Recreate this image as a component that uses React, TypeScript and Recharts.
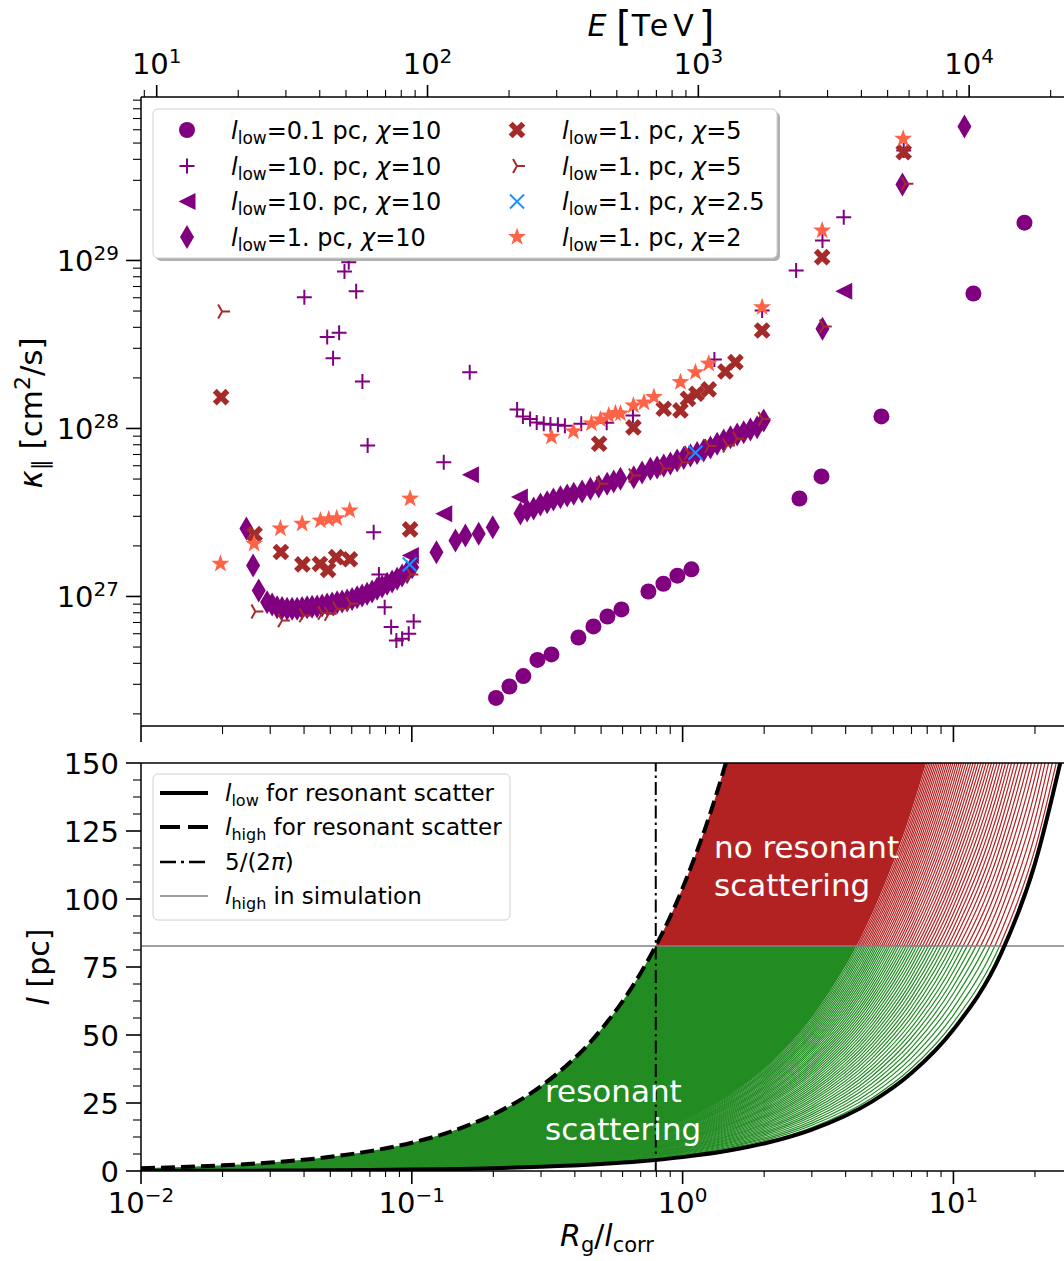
import React from 'react';
import { ScatterChart, Scatter, XAxis, YAxis, ComposedChart, Line, Area, ReferenceLine } from 'recharts';

const FONT = '"DejaVu Sans", "Liberation Sans", sans-serif';
const PURPLE = '#800080';
const BROWN = '#a52a2a';
const BLUE = '#1e90ff';
const TOMATO = '#ff6347';
const GREEN = '#228b22';
const RED = '#b22222';

// ---------------- top panel data: R_g/l_corr and kappa_par [cm^2/s] ----------------
const low01chi10_R = [0.2046, 0.2293, 0.2582, 0.291, 0.3278, 0.4123, 0.4684, 0.5276, 0.5943, 0.7475, 0.8492, 0.9567, 1.078, 2.7, 3.256, 5.42, 11.85, 18.29];
const low01chi10_K = [2.49e26, 2.91e26, 3.36e26, 4.19e26, 4.52e26, 5.7e26, 6.63e26, 7.6e26, 8.37e26, 1.07e27, 1.19e27, 1.33e27, 1.45e27, 3.83e27, 5.18e27, 1.18e28, 6.36e28, 1.68e29];

const low10chi10plus_R = [0.0401, 0.0487, 0.0512, 0.0539, 0.0564, 0.0585, 0.0623, 0.0657, 0.0687, 0.0723, 0.0756, 0.0794, 0.0839, 0.0877, 0.0921, 0.0974, 0.1016, 0.1312, 0.1636, 0.2448, 0.2572, 0.2734, 0.2892, 0.307, 0.325, 0.3463, 0.3675, 0.4223, 0.5244, 0.6554, 1.31, 1.966, 2.625, 3.284, 3.935, 6.553];
const low10chi10plus_K = [6.05e28, 3.5e28, 2.62e28, 3.71e28, 8.6e28, 9.77e28, 6.57e28, 1.905e28, 7.92e27, 2.41e27, 1.352e27, 8.64e26, 6.57e26, 5.47e26, 5.6e26, 6.0e26, 7.1e26, 6.3e27, 2.16e28, 1.298e28, 1.179e28, 1.139e28, 1.086e28, 1.067e28, 1.056e28, 1.052e28, 1.038e28, 1.067e28, 1.083e28, 1.195e28, 2.575e28, 5.04e28, 8.72e28, 1.315e29, 1.81e29, 4.52e29];

const low10chi10tri_R = [0.0988, 0.1312, 0.1646, 0.2496, 3.935];
const low10chi10tri_K = [1.754e27, 3.107e27, 5.3e27, 3.91e27, 6.57e28];

const low1chi10_R = [0.0245, 0.02594, 0.02721, 0.02922, 0.03049, 0.03181, 0.03319, 0.03463, 0.03614, 0.03771, 0.03935, 0.04106, 0.04284, 0.0447, 0.04664, 0.04866, 0.05078, 0.05299, 0.05528, 0.0577, 0.06018, 0.06281, 0.06553, 0.06838, 0.07135, 0.07445, 0.07768, 0.08106, 0.08457, 0.08825, 0.09209, 0.09607, 0.1003, 0.1233, 0.1449, 0.1577, 0.1766, 0.199, 0.2518, 0.2666, 0.2818, 0.2985, 0.316, 0.3333, 0.3538, 0.3747, 0.3962, 0.4255, 0.4566, 0.49, 0.5263, 0.5566, 0.5893, 0.6598, 0.7084, 0.7605, 0.805, 0.8516, 0.9013, 0.9544, 1.0095, 1.069, 1.131, 1.196, 1.267, 1.341, 1.418, 1.502, 1.59, 1.681, 1.78, 1.884, 1.993, 3.284, 6.481, 10.98];
const low1chi10_K = [2.54e27, 1.53e27, 1.086e27, 9.25e26, 8.96e26, 8.64e26, 8.54e26, 8.45e26, 8.45e26, 8.45e26, 8.54e26, 8.64e26, 8.68e26, 8.72e26, 8.84e26, 8.96e26, 9.08e26, 9.25e26, 9.34e26, 9.47e26, 9.66e26, 9.9e26, 1.014e27, 1.038e27, 1.071e27, 1.111e27, 1.147e27, 1.19e27, 1.228e27, 1.275e27, 1.334e27, 1.395e27, 1.494e27, 1.835e27, 2.154e27, 2.307e27, 2.362e27, 2.585e27, 3.119e27, 3.25e27, 3.34e27, 3.53e27, 3.64e27, 3.78e27, 3.9e27, 3.99e27, 4.09e27, 4.22e27, 4.38e27, 4.52e27, 4.69e27, 4.84e27, 5.02e27, 5.13e27, 5.47e27, 5.76e27, 5.86e27, 6.02e27, 6.19e27, 6.45e27, 6.67e27, 6.91e27, 7.15e27, 7.4e27, 7.71e27, 8.11e27, 8.49e27, 8.88e27, 9.21e27, 9.51e27, 9.86e27, 1.018e28, 1.116e28, 3.92e28, 2.835e29, 6.28e29];

const low1chi5X_R = [0.01976, 0.02627, 0.03285, 0.03945, 0.04577, 0.04908, 0.05257, 0.05908, 0.09856, 0.4917, 0.6581, 0.8516, 0.9815, 1.046, 1.125, 1.249, 1.439, 1.567, 1.966, 3.275, 6.553];
const low1chi5X_K = [1.536e28, 2.35e27, 1.84e27, 1.551e27, 1.561e27, 1.438e27, 1.713e27, 1.665e27, 2.505e27, 8.11e27, 1.014e28, 1.31e28, 1.28e28, 1.502e28, 1.609e28, 1.707e28, 2.184e28, 2.48e28, 3.83e28, 1.046e29, 4.41e29];

const low1chi5tri_R = [0.01993, 0.02645, 0.03319, 0.03979, 0.04664, 0.04933, 0.05289, 0.05934, 0.0988, 0.4971, 0.6554, 0.8516, 0.9959, 1.053, 1.249, 1.459, 1.587, 1.971, 3.32, 6.648];
const low1chi5tri_K = [4.97e28, 8.14e26, 7.2e26, 7.71e26, 7.98e26, 7.89e26, 8.45e26, 9.05e26, 1.352e27, 4.69e27, 5.25e27, 5.78e27, 6.3e27, 7.15e27, 7.87e27, 7.92e27, 8.69e27, 1.139e28, 4.05e28, 2.86e29];

const low1chi25_R = [0.09822, 1.115];
const low1chi25_K = [1.551e27, 7.17e27];

const low1chi2_R = [0.01964, 0.02616, 0.03271, 0.03935, 0.04597, 0.04933, 0.05281, 0.05899, 0.09856, 0.3278, 0.3951, 0.4605, 0.4971, 0.5334, 0.5648, 0.5893, 0.6581, 0.7199, 0.7834, 0.9815, 1.115, 1.249, 1.966, 3.275, 6.52];
const low1chi2_K = [1.565e27, 2.06e27, 2.54e27, 2.71e27, 2.83e27, 2.88e27, 2.92e27, 3.25e27, 3.82e27, 8.93e27, 9.6e27, 1.071e28, 1.131e28, 1.195e28, 1.233e28, 1.228e28, 1.37e28, 1.428e28, 1.54e28, 1.886e28, 2.16e28, 2.43e28, 5.27e28, 1.509e29, 5.3e29];

// legend label parts: l_low value, chi value
const SERIES_LOW = ['0.1', '10.', '10.', '1.', '1.', '1.', '1.', '1.'];
const SERIES_CHI = ['10', '10', '10', '10', '5', '5', '2.5', '2'];
const SERIES_MARK = ['circle', 'plus', 'tleft', 'dthin', 'xfill', 'tri', 'xthin', 'star'];
const SERIES_COLOR = [PURPLE, PURPLE, PURPLE, PURPLE, BROWN, BROWN, BLUE, TOMATO];
const SERIES_R = [low01chi10_R, low10chi10plus_R, low10chi10tri_R, low1chi10_R, low1chi5X_R, low1chi5tri_R, low1chi25_R, low1chi2_R];
const SERIES_K = [low01chi10_K, low10chi10plus_K, low10chi10tri_K, low1chi10_K, low1chi5X_K, low1chi5tri_K, low1chi25_K, low1chi2_K];

// ---------------- bottom panel data ----------------
const R_GRID = [0.01, 0.015, 0.02, 0.03, 0.05, 0.07, 0.1, 0.15, 0.2, 0.3, 0.5, 0.7, 1, 1.5, 2, 3, 5, 7, 10, 15, 20, 25.6];
const L_HIGH = [1.04, 1.56, 2.08, 3.1, 5.2, 7.3, 10.4, 15.6, 20.8, 31.2, 52, 72.8, 104, 156, 208, 312, 520, 728, 1040, 1560, 2080, 2660];
const L_LOW = [0.051, 0.077, 0.1, 0.15, 0.26, 0.36, 0.51, 0.77, 1.02, 1.53, 2.55, 3.55, 5.1, 7.6, 10.1, 15.2, 25.5, 36, 52, 80, 113, 156];
const L_SIM = 82.7;
const R_RES = 5 / (2 * Math.PI);

// ---------------- axes ----------------
const R_MIN = 0.01, R_MAX = 25.6;
const K_MIN = 1.694e26, K_MAX = 9.4e29;
const E_MIN = 8.75, E_MAX = 22400;
const L_MIN = 0, L_MAX = 150;
const MULT = [1, 2, 3, 4, 5, 6, 7, 8, 9];
const R_TICKS = [0.01, 0.1, 1, 10].flatMap((d) => MULT.map((m) => m * d)).filter((v) => v <= R_MAX);
const K_TICKS = [1e26, 1e27, 1e28, 1e29].flatMap((d) => MULT.map((m) => m * d)).filter((v) => v >= K_MIN && v <= K_MAX);
const E_TICKS = [1, 10, 100, 1000, 10000].flatMap((d) => MULT.map((m) => m * d)).filter((v) => v >= E_MIN && v <= E_MAX);
const L_TICKS = Array.from({ length: 25 }, (_, i) => i * 6.25);
const L_MAJOR = [0, 25, 50, 75, 100, 125, 150];

const HATCH_T = Array.from({ length: 52 }, (_, k) => (k + 1) * 0.0027);
const T_SOLID = 0.14;

const TICK_FS = 29;
const SPINE = { stroke: '#000', strokeWidth: 1.5 };

const isPow10 = (v: number) => Math.abs(Math.log10(v) - Math.round(Math.log10(v))) < 1e-6;

function PowLabel({ x, y, v, anchor }: any) {
  const e = Math.round(Math.log10(v));
  const s = e < 0 ? '\u2212' + Math.abs(e) : String(e);
  return (
    <text x={x} y={y} textAnchor={anchor} fontSize={TICK_FS} fontFamily={FONT} fill="#000">
      <tspan>10</tspan>
      <tspan dy={-11} fontSize={20}>{s}</tspan>
    </text>
  );
}

const kLeftTick = (p: any) => {
  const { x, y, payload } = p;
  const maj = isPow10(payload.value);
  return (
    <g>
      <line x1={x} x2={x - (maj ? 15 : 8)} y1={y} y2={y} stroke="#000" strokeWidth={maj ? 1.6 : 1.1} />
      {maj && <PowLabel x={x - 22} y={y + 10.5} v={payload.value} anchor="end" />}
    </g>
  );
};

const rTopPanelTick = (p: any) => {
  const { x, y, payload } = p;
  const maj = isPow10(payload.value);
  return <line x1={x} x2={x} y1={y} y2={y + (maj ? 16 : 8)} stroke="#000" strokeWidth={maj ? 1.6 : 1.1} />;
};

const eTick = (p: any) => {
  const { x, y, payload } = p;
  const maj = isPow10(payload.value);
  return (
    <g>
      <line x1={x} x2={x} y1={y} y2={y - (maj ? 12 : 7)} stroke="#000" strokeWidth={maj ? 1.6 : 1.1} />
      {maj && <PowLabel x={x} y={y - 23} v={payload.value} anchor="middle" />}
    </g>
  );
};

const rBottomTick = (p: any) => {
  const { x, y, payload } = p;
  const maj = isPow10(payload.value);
  return (
    <g>
      <line x1={x} x2={x} y1={y} y2={y + (maj ? 13 : 6)} stroke="#000" strokeWidth={maj ? 1.6 : 1.1} />
      {maj && <PowLabel x={x} y={y + 42} v={payload.value} anchor="middle" />}
    </g>
  );
};

const lLeftTick = (p: any) => {
  const { x, y, payload } = p;
  const maj = L_MAJOR.includes(payload.value);
  return (
    <g>
      <line x1={x} x2={x - (maj ? 15 : 8)} y1={y} y2={y} stroke="#000" strokeWidth={maj ? 1.6 : 1.1} />
      {maj && (
        <text x={x - 22} y={y + 10.5} textAnchor="end" fontSize={TICK_FS} fontFamily={FONT} fill="#000">
          {payload.value}
        </text>
      )}
    </g>
  );
};

// ---------------- marker shapes ----------------
function starPoints(cx: number, cy: number, ro: number, ri: number) {
  const pts: string[] = [];
  for (let i = 0; i < 10; i++) {
    const a = (-90 + i * 36) * (Math.PI / 180);
    const r = i % 2 === 0 ? ro : ri;
    pts.push(`${cx + r * Math.cos(a)},${cy + r * Math.sin(a)}`);
  }
  return pts.join(' ');
}
function xPoints(cx: number, cy: number, L: number, w: number) {
  const base = [[w, L], [w, w], [L, w], [L, -w], [w, -w], [w, -L], [-w, -L], [-w, -w], [-L, -w], [-L, w], [-w, w], [-w, L]];
  const c = Math.SQRT1_2;
  return base.map(([px, py]) => `${cx + (px - py) * c},${cy + (px + py) * c}`).join(' ');
}

function Marker({ kind, cx, cy, color }: any) {
  if (cx == null || cy == null) return null;
  switch (kind) {
    case 'circle':
      return <circle cx={cx} cy={cy} r={8} fill={color} />;
    case 'plus':
      return <path d={`M${cx - 7.5},${cy}H${cx + 7.5}M${cx},${cy - 7.5}V${cy + 7.5}`} stroke={color} strokeWidth={2} fill="none" />;
    case 'tleft':
      return <polygon points={`${cx - 8.5},${cy} ${cx + 8.5},${cy - 8.5} ${cx + 8.5},${cy + 8.5}`} fill={color} />;
    case 'dthin':
      return <polygon points={`${cx},${cy - 12} ${cx + 7},${cy} ${cx},${cy + 12} ${cx - 7},${cy}`} fill={color} />;
    case 'xfill':
      return <polygon points={xPoints(cx, cy, 9, 2.8)} fill={color} />;
    case 'tri':
      return <path d={`M${cx},${cy}H${cx + 8}M${cx},${cy}L${cx - 4},${cy - 6.9}M${cx},${cy}L${cx - 4},${cy + 6.9}`} stroke={color} strokeWidth={2} fill="none" />;
    case 'xthin':
      return <path d={`M${cx - 7},${cy - 7}L${cx + 7},${cy + 7}M${cx - 7},${cy + 7}L${cx + 7},${cy - 7}`} stroke={color} strokeWidth={2} fill="none" />;
    case 'star':
      return <polygon points={starPoints(cx, cy, 9.5, 3.8)} fill={color} />;
    default:
      return null;
  }
}

// ---------------- layout ----------------
const TOP_M = { top: 57, right: 0, bottom: 4, left: 41 };
const BOT_TOP = 740;
const BOT_M = { top: 23, right: 0, bottom: 60, left: 81 };
const BOT_PLOT_TOP = 23;
const BOT_PLOT_H = 408;
const SPLIT = 1 - L_SIM / L_MAX;

const BOTTOM_ROWS = R_GRID.map((r, i) => ({ R: r, low: L_LOW[i], high: L_HIGH[i] }));

function LegendLabel({ x, y, low, chi }: any) {
  return (
    <text x={x} y={y} fontSize={24} fontFamily={FONT} fill="#000">
      <tspan fontStyle="italic">l</tspan>
      <tspan fontSize={17} dy={5}>low</tspan>
      <tspan dy={-5}>{`=${low} pc, `}</tspan>
      <tspan fontStyle="italic">χ</tspan>
      <tspan>{`=${chi}`}</tspan>
    </text>
  );
}

export default function App() {
  const rowsY = [130, 166, 201.5, 237];
  return (
    <div style={{ position: 'absolute', left: 0, top: 0, width: 1064, height: 1261, background: '#fff', overflow: 'hidden', fontFamily: FONT }}>
      <div style={{ position: 'absolute', left: 0, top: 0 }}>
        <ScatterChart width={1064} height={760} margin={TOP_M}>
          <XAxis
            dataKey="x" type="number" scale="log" domain={[R_MIN, R_MAX]} allowDataOverflow
            ticks={R_TICKS} interval={0} tickSize={0} tickMargin={0} tickLine={false}
            tick={rTopPanelTick} axisLine={SPINE} height={30}
          />
          <XAxis
            xAxisId="E" orientation="top" dataKey="e" type="number" scale="log" domain={[E_MIN, E_MAX]} allowDataOverflow
            ticks={E_TICKS} interval={0} tickSize={0} tickMargin={0} tickLine={false}
            tick={eTick} axisLine={SPINE} height={40}
          />
          <YAxis
            dataKey="y" type="number" scale="log" domain={[K_MIN, K_MAX]} allowDataOverflow
            ticks={K_TICKS} interval={0} tickSize={0} tickMargin={0} tickLine={false}
            tick={kLeftTick} axisLine={SPINE} width={100}
          />
          {SERIES_R.map((rs, si) => (
            <Scatter
              key={si}
              data={rs.map((r, i) => ({ x: r, y: SERIES_K[si][i] }))}
              fill={SERIES_COLOR[si]}
              isAnimationActive={false}
              shape={(p: any) => <Marker kind={SERIES_MARK[si]} cx={p.cx} cy={p.cy} color={SERIES_COLOR[si]} />}
            />
          ))}
        </ScatterChart>
      </div>

      <div style={{ position: 'absolute', left: 0, top: BOT_TOP }}>
        <ComposedChart width={1064} height={521} data={BOTTOM_ROWS} margin={BOT_M}>
          <defs>
            <linearGradient id="splitFill" gradientUnits="userSpaceOnUse" x1="0" y1={BOT_PLOT_TOP} x2="0" y2={BOT_PLOT_TOP + BOT_PLOT_H}>
              <stop offset={SPLIT} stopColor={RED} />
              <stop offset={SPLIT} stopColor={GREEN} />
            </linearGradient>
          </defs>
          <XAxis
            dataKey="R" type="number" scale="log" domain={[R_MIN, R_MAX]} allowDataOverflow
            ticks={R_TICKS} interval={0} tickSize={0} tickMargin={0} tickLine={false}
            tick={rBottomTick} axisLine={SPINE} height={30}
          />
          <YAxis
            type="number" domain={[L_MIN, L_MAX]} allowDataOverflow
            ticks={L_TICKS} interval={0} tickSize={0} tickMargin={0} tickLine={false}
            tick={lLeftTick} axisLine={SPINE} width={60}
          />
          <Area
            type="monotone"
            dataKey={(d: any) => [d.low + T_SOLID * (d.high - d.low), d.high]}
            fill="url(#splitFill)" fillOpacity={1} stroke="none" isAnimationActive={false}
          />
          {HATCH_T.map((t) => (
            <Line
              key={t}
              type="monotone"
              dataKey={(d: any) => d.low + t * (d.high - d.low)}
              stroke="url(#splitFill)" strokeWidth={1.2} dot={false} activeDot={false}
              isAnimationActive={false}
            />
          ))}
          <ReferenceLine y={L_SIM} stroke="#808080" strokeWidth={1.5} />
          <Line type="monotone" dataKey="high" stroke="#000" strokeWidth={4} strokeDasharray="14 6" dot={false} activeDot={false} isAnimationActive={false} />
          <Line type="monotone" dataKey="low" stroke="#000" strokeWidth={4} dot={false} activeDot={false} isAnimationActive={false} />
          <ReferenceLine x={R_RES} stroke="#000" strokeWidth={2} strokeDasharray="13 4 2.5 4" />
          <ReferenceLine y={L_MAX} stroke="#000" strokeWidth={1.5} />
        </ComposedChart>
      </div>

      <svg width={1064} height={1261} style={{ position: 'absolute', left: 0, top: 0, pointerEvents: 'none' }}>
        {/* top axis title */}
        <text x={651} y={36} textAnchor="middle" fontSize={30} fontFamily={FONT} fill="#000">
          <tspan fontStyle="italic">E</tspan>
          <tspan>{'  '}</tspan>
          <tspan fontSize={40} dy={4}>[</tspan>
          <tspan dy={-4} letterSpacing={5}>TeV</tspan>
          <tspan fontSize={40} dy={4}>]</tspan>
        </text>
        {/* kappa label */}
        <text transform="translate(42,413) rotate(-90)" textAnchor="middle" fontSize={31} fontFamily={FONT} fill="#000">
          <tspan fontStyle="italic">κ</tspan>
          <tspan fontSize={22} dy={6}>∥</tspan>
          <tspan dy={-6}>{' [cm'}</tspan>
          <tspan fontSize={22} dy={-12}>2</tspan>
          <tspan dy={12}>/s]</tspan>
        </text>
        {/* l label */}
        <text transform="translate(49,967) rotate(-90)" textAnchor="middle" fontSize={30} fontFamily={FONT} fill="#000">
          <tspan fontStyle="italic">l</tspan>
          <tspan>{' [pc]'}</tspan>
        </text>
        {/* x label */}
        <text x={607} y={1246} textAnchor="middle" fontSize={30} fontFamily={FONT} fill="#000">
          <tspan fontStyle="italic">R</tspan>
          <tspan fontSize={21} dy={6}>g</tspan>
          <tspan dy={-6}>/</tspan>
          <tspan fontStyle="italic">l</tspan>
          <tspan fontSize={21} dy={6}>corr</tspan>
        </text>

        {/* annotations */}
        <text x={714} y={858} fontSize={31} fontFamily={FONT} fill="#fff">no resonant</text>
        <text x={714} y={896} fontSize={31} fontFamily={FONT} fill="#fff">scattering</text>
        <text x={545} y={1102} fontSize={31} fontFamily={FONT} fill="#fff">resonant</text>
        <text x={545} y={1140} fontSize={31} fontFamily={FONT} fill="#fff">scattering</text>

        {/* top legend */}
        <rect x={156} y={112} width={624} height={149} rx={5} fill="#b0b0b0" />
        <rect x={153} y={109} width={624} height={149} rx={5} fill="#fff" stroke="#d0d0d0" strokeWidth={1} />
        {SERIES_MARK.map((m, i) => {
          const col = i < 4 ? 0 : 1;
          const row = i % 4;
          const mx = col === 0 ? 187 : 517;
          const tx = col === 0 ? 231 : 562;
          return (
            <g key={i}>
              <Marker kind={m} cx={mx} cy={rowsY[row]} color={SERIES_COLOR[i]} />
              <LegendLabel x={tx} y={rowsY[row] + 8.5} low={SERIES_LOW[i]} chi={SERIES_CHI[i]} />
            </g>
          );
        })}

        {/* bottom legend */}
        <rect x={153} y={774} width={357} height={146} rx={5} fill="#fff" stroke="#d0d0d0" strokeWidth={1} />
        <line x1={160} x2={208} y1={793} y2={793} stroke="#000" strokeWidth={4} />
        <line x1={160} x2={208} y1={827} y2={827} stroke="#000" strokeWidth={4} strokeDasharray="20 8" />
        <line x1={160} x2={208} y1={862} y2={862} stroke="#000" strokeWidth={2.5} strokeDasharray="16 5 3 5" />
        <line x1={160} x2={208} y1={896} y2={896} stroke="#808080" strokeWidth={1.5} />
        <text x={225} y={801} fontSize={23} fontFamily={FONT} fill="#000">
          <tspan fontStyle="italic">l</tspan>
          <tspan fontSize={16} dy={5}>low</tspan>
          <tspan dy={-5}>{' for resonant scatter'}</tspan>
        </text>
        <text x={225} y={835} fontSize={23} fontFamily={FONT} fill="#000">
          <tspan fontStyle="italic">l</tspan>
          <tspan fontSize={16} dy={5}>high</tspan>
          <tspan dy={-5}>{' for resonant scatter'}</tspan>
        </text>
        <text x={225} y={870} fontSize={23} fontFamily={FONT} fill="#000">
          <tspan>5/(2</tspan>
          <tspan fontStyle="italic">π</tspan>
          <tspan>)</tspan>
        </text>
        <text x={225} y={904} fontSize={23} fontFamily={FONT} fill="#000">
          <tspan fontStyle="italic">l</tspan>
          <tspan fontSize={16} dy={5}>high</tspan>
          <tspan dy={-5}>{' in simulation'}</tspan>
        </text>
      </svg>
    </div>
  );
}
